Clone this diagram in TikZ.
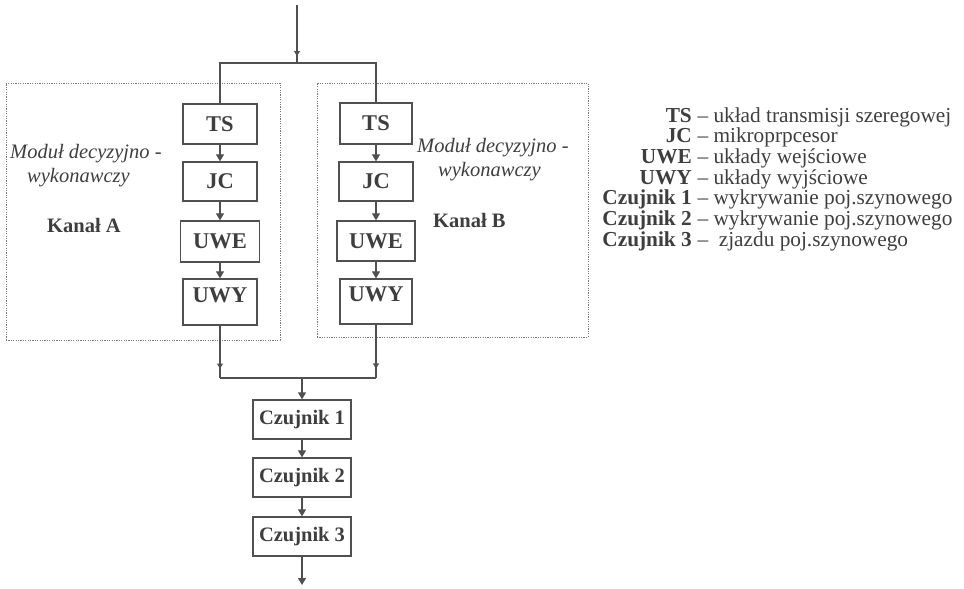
\documentclass[tikz,border=0pt]{standalone}
\usepackage{fontspec}
\setmainfont{Liberation Serif}
\usetikzlibrary{arrows.meta,decorations.markings}
\definecolor{ink}{RGB}{62,62,62}
\definecolor{lin}{RGB}{80,80,80}
\definecolor{dotc}{RGB}{120,120,120}
\begin{document}
\begin{tikzpicture}[x=1pt,y=-1pt,
  txt/.style={font=\fontsize{20.5}{24}\selectfont, text=ink, inner sep=0pt},
  box/.style={draw=lin, line width=1.3pt, fill=white, minimum width=74pt, minimum height=40pt, inner sep=0pt, font=\fontsize{22.5}{26}\selectfont\bfseries, text=ink},
  czbox/.style={box, minimum width=98pt, minimum height=39pt, font=\fontsize{20.5}{24}\selectfont\bfseries},
  raisedbox/.style={box, text height=15pt, text depth=15pt},
  frame/.style={draw=dotc, line width=0.9pt, dash pattern=on 1.2pt off 1.2pt, inner sep=0pt},
  conn/.style={draw=lin, line width=1.2pt},
  arr/.style={conn, -{Triangle[width=8pt,length=7pt]}},
  midarr/.style={postaction={decorate}, decoration={markings, mark=at position #1 with {\arrow[lin]{Triangle[width=6pt,length=5pt]}}}},
  legl/.style={txt, anchor=base east, font=\fontsize{21.3}{25}\selectfont\bfseries},
  legd/.style={txt, anchor=base west, font=\fontsize{21.3}{25}\selectfont}
]
\useasboundingbox (0,0) rectangle (964,589);
% frames
\node[frame, minimum width=274pt, minimum height=257pt] (modA) at (143,211.5) {};
\node[frame, minimum width=271pt, minimum height=254pt] (modB) at (452.5,210) {};
% left column
\node[box] (tsA) at (220,124) {TS};
\node[box, minimum height=39pt] (jcA) at (220,181.5) {JC};
\node[box, minimum width=79pt, minimum height=41pt] (uweA) at (220,241.5) {UWE};
\node[raisedbox, minimum height=46pt] (uwyA) at (220,302) {UWY};
% right column
\node[box, minimum width=72pt, minimum height=41pt] (tsB) at (376,123.5) {TS};
\node[box, minimum height=39pt] (jcB) at (376,181.5) {JC};
\node[box, minimum width=78pt] (uweB) at (376,241) {UWE};
\node[raisedbox, minimum width=72pt, minimum height=45pt] (uwyB) at (376,301.5) {UWY};
% sensors
\node[czbox] (cz1) at (302,419.5) {Czujnik 1};
\node[czbox] (cz2) at (302,477.5) {Czujnik 2};
\node[czbox] (cz3) at (302,536.5) {Czujnik 3};
% texts in modules
\node[txt, anchor=base west, font=\fontsize{20.5}{24}\selectfont\itshape] (mA1) at (10,158) {Moduł decyzyjno -};
\node[txt, anchor=base west, font=\fontsize{20.5}{24}\selectfont\itshape] (mA2) at (27,182) {wykonawczy};
\node[txt, anchor=base west, font=\fontsize{20.5}{24}\selectfont\bfseries] (kA) at (47,232) {Kanał A};
\node[txt, anchor=base west, font=\fontsize{20.5}{24}\selectfont\itshape] (mB1) at (417,152) {Moduł decyzyjno -};
\node[txt, anchor=base west, font=\fontsize{20.5}{24}\selectfont\itshape] (mB2) at (438,176) {wykonawczy};
\node[txt, anchor=base west, font=\fontsize{20.5}{24}\selectfont\bfseries] (kB) at (433,227) {Kanał B};
% connectors
\coordinate (top) at (297,5);
\coordinate (j1) at (297,63);
\draw[conn, midarr=0.88] (top) -- (j1);
\draw[conn] (tsA.north) |- (j1) -| (tsB.north);
\draw[arr] (tsA.south) -- (jcA.north);
\draw[arr] (jcA.south) -- (uweA.north);
\draw[arr] (uweA.south) -- (uwyA.north);
\draw[arr] (tsB.south) -- (jcB.north);
\draw[arr] (jcB.south) -- (uweB.north);
\draw[arr] (uweB.south) -- (uwyB.north);
\coordinate (jo) at (302,378);
\draw[conn, midarr=0.82] (uwyA.south) -- (uwyA.south |- jo);
\draw[conn, midarr=0.82] (uwyB.south) -- (uwyB.south |- jo);
\draw[conn] (uwyA.south |- jo) -- (uwyB.south |- jo);
\draw[arr] (jo) -- (cz1.north);
\draw[arr] (cz1.south) -- (cz2.north);
\draw[arr] (cz2.south) -- (cz3.north);
\coordinate (out) at (302,585);
\draw[arr] (cz3.south) -- (out);
% legend
\foreach \k/\lab/\desc [count=\i from 0] in {
  TS/TS/układ transmisji szeregowej,
  JC/JC/mikroprpcesor,
  UWE/UWE/układy wejściowe,
  UWY/UWY/układy wyjściowe,
  C1/Czujnik 1/wykrywanie poj.szynowego,
  C2/Czujnik 2/wykrywanie poj.szynowego,
  C3/Czujnik 3/\ zjazdu poj.szynowego}{
  \node[legl] (l\k) at (692,{122+20.7*\i}) {\lab};
  \node[legd] (d\k) at (l\k.base east) {\ – \desc};
}
\end{tikzpicture}
\end{document}
